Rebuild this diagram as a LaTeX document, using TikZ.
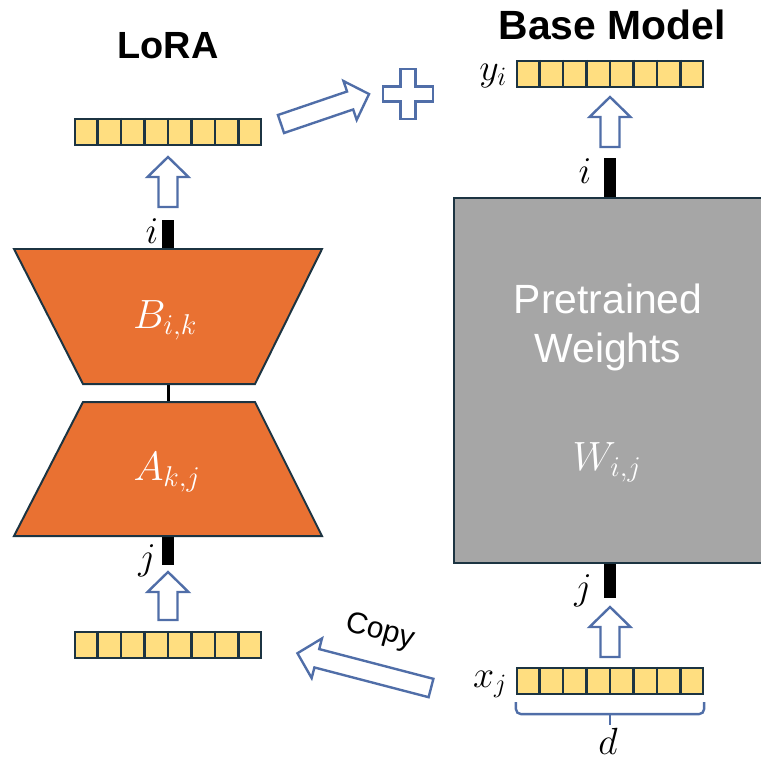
\RequirePackage{fix-cm}
\documentclass[tikz,border=0pt]{standalone}
\usepackage{fontspec}
\setmainfont{Liberation Sans}
\usetikzlibrary{calc,positioning}
\definecolor{lOrange}{RGB}{233,113,50}
\definecolor{lGray}{RGB}{166,166,166}
\definecolor{lCell}{RGB}{255,222,128}
\definecolor{lEdge}{RGB}{28,52,66}
\definecolor{lBlue}{RGB}{80,110,168}
\tikzset{
    vecrow/.style={draw=lEdge, fill=lCell, line width=2.2pt, minimum width=186bp, minimum height=26bp, inner sep=0pt},
    cellsep/.style={draw=lEdge, line width=2.2pt},
    mat/.style={draw=lEdge, fill=lOrange, line width=2pt, line join=miter},
    wbox/.style={draw=lEdge, fill=lGray, line width=2pt, minimum width=320bp, minimum height=365bp, inner sep=0pt},
    bar/.style={line width=12bp, black},
    hollow/.style={draw=lBlue, fill=white, line width=2.4pt, line join=miter},
    title/.style={font=\bfseries, anchor=base, inner sep=0pt},
    var/.style={font=\fontsize{38}{40}\selectfont, anchor=base, inner sep=0pt},
    inw/.style={font=\fontsize{41}{48}\selectfont, text=white, anchor=base, inner sep=0pt}
}
\newcommand{\blockarrow}[3]{%
  \draw[hollow, shift={#1}, rotate=#2]
    (0,-9.5) -- ({#3-20},-9.5) -- ({#3-20},-20.5) -- (#3,0) -- ({#3-20},20.5) -- ({#3-20},9.5) -- (0,9.5) -- cycle;}

\begin{document}
\begin{tikzpicture}[x=1bp,y=-1bp]
\useasboundingbox (0,0) rectangle (761,762);
\clip (0,0) rectangle (761,762);

\node[title, font=\fontsize{38}{40}\selectfont\bfseries] (lora) at (168,59) {LoRA};
\node[title, font=\fontsize{41}{44}\selectfont\bfseries] (base) at (612,40) {Base Model};

% LoRA branch
\node[vecrow] (hout) at (168,132) {};
\node[vecrow] (xcopy) at (168,645) {};
\draw[bar] (168,249) -- (168,220);
\draw[bar] (168,536) -- (168,565);
\draw[line width=3bp] (168,384) -- (168,402);
\draw[mat] (14,249) -- (322,249) -- (255,384) -- (83,384) -- cycle;
\draw[mat] (83,402) -- (255,402) -- (322,536) -- (14,536) -- cycle;
\node[inw] (bmat) at (165,328) {$B_{i,k}$};
\node[inw] (amat) at (167,480) {$A_{k,j}$};
\node[var] (li) at (152,243) {$i$};
\node[var] (lj) at (147,569) {$j$};
\blockarrow{(168,207)}{90}{50}
\blockarrow{(168,620)}{90}{48}

% base model
\node[vecrow] (yout) at (610,74) {};
\node[vecrow] (xin) at (610,681) {};
\draw[bar] (610,198) -- (610,158);
\draw[bar] (610,563) -- (610,598);
\node[wbox] (W) at (614,380.5) {};
\node[inw] (pre) at (608,313) {Pretrained};
\node[inw] (wts) at (608,362) {Weights};
\node[inw] (wmat) at (607,470) {$W_{i,j}$};
\node[var] (ri) at (585,183) {$i$};
\node[var] (rj) at (583,599) {$j$};
\node[var] (ylbl) at (493,80) {$y_i$};
\node[var] (xlbl) at (490,687) {$x_j$};
\node[var] (dlbl) at (608,754) {$d$};
\blockarrow{(610,147)}{90}{50}
\blockarrow{(610,657)}{90}{50}

\foreach \n in {hout,xcopy,yout,xin}
  \foreach \k in {1,...,7}
    \draw[cellsep] ($(\n.north west)!\k/8!(\n.north east)$) -- ($(\n.south west)!\k/8!(\n.south east)$);

% sum and copy
\coordinate (plus) at (408,94);
\blockarrow{(281,124)}{18.8}{93}
\draw[hollow] ($(plus)+(-7.5,-25)$) -- ++(15,0) -- ++(0,17.5) -- ++(17.5,0) -- ++(0,15) -- ++(-17.5,0) -- ++(0,17.5) -- ++(-15,0) -- ++(0,-17.5) -- ++(-17.5,0) -- ++(0,-15) -- ++(17.5,0) -- cycle;
\blockarrow{(431,688)}{165.4}{138}
\node[font=\fontsize{30}{32}\selectfont, rotate=-15] (copy) at (380,632) {Copy};

\draw[lBlue, line width=2.4pt, rounded corners=5bp] ($(xin.south west)+(0,7)$) -- ++(0,12) -- ($(xin.south east)+(0,19)$) -- ++(0,-12);
\draw[lBlue, line width=2.4pt] ($(xin.south)+(0,19)$) -- ++(0,11);
\end{tikzpicture}
\end{document}
